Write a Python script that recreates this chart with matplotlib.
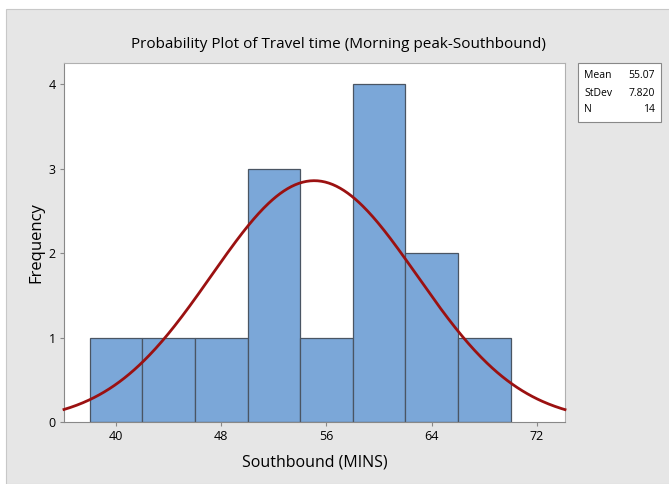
import numpy as np
import matplotlib.pyplot as plt
from matplotlib.patches import Rectangle

plt.rcParams['font.family'] = ['Open Sans', 'DejaVu Sans']

# histogram data (Minitab style)
bin_edges = [38, 42, 46, 50, 54, 58, 62, 66, 70]
counts = [1, 1, 1, 3, 1, 4, 2, 1]
mean = 55.07
stdev = 7.820
n = 14
x_ticks = [40, 48, 56, 64, 72]
y_ticks = [0, 1, 2, 3, 4]

fig = plt.figure(figsize=(6.69, 4.84), dpi=100)
fig.patch.set_facecolor('white')

# gray panel with thin border
fig.patches.append(Rectangle((6 / 669, 0), 1, 1 - 9 / 484, transform=fig.transFigure,
                             facecolor='#e6e6e6', edgecolor='#c8c8c8', linewidth=0.8,
                             zorder=-2))

ax = fig.add_axes([64 / 669, 1 - 422 / 484, (565 - 64) / 669, (422 - 63) / 484])
ax.set_zorder(2)
ax.set_facecolor('white')

widths = np.diff(bin_edges)
ax.bar(bin_edges[:-1], counts, width=widths, align='edge', color='#7ba7d8',
       edgecolor='#4a5563', linewidth=0.9, zorder=2)

xlim = (36.05, 74.13)
xs = np.linspace(xlim[0], xlim[1], 400)
bw = widths[0]
ys = n * bw * np.exp(-0.5 * ((xs - mean) / stdev) ** 2) / (stdev * np.sqrt(2 * np.pi))
ax.plot(xs, ys, color='#9b1111', linewidth=2.0, zorder=3, clip_on=False)

ax.set_xlim(xlim)
ax.set_ylim(0, 4.25)
ax.set_xticks(x_ticks)
ax.set_yticks(y_ticks)
ax.tick_params(axis='both', labelsize=9, length=3, color='#888888', pad=3)
for side in ['top', 'right']:
    ax.spines[side].set_color('#b0b0b0')
for side in ['left', 'bottom']:
    ax.spines[side].set_color('#888888')

ax.set_xlabel('Southbound (MINS)', fontsize=11.5, labelpad=8)
ax.set_ylabel('Frequency', fontsize=12, labelpad=3)
fig.text(0.5066, 1 - 45 / 484, 'Probability Plot of Travel time (Morning peak-Southbound)',
         ha='center', va='center', fontsize=11)

# stats box
fig.patches.append(Rectangle((578 / 669, 1 - 122 / 484), (661 - 578) / 669, 59 / 484,
                             transform=fig.transFigure, facecolor='white',
                             edgecolor='#888888', linewidth=0.8, zorder=-1))
labels = ['Mean', 'StDev', 'N']
values = ['55.07', '7.820', '14']
for i, (lab, val) in enumerate(zip(labels, values)):
    yy = 1 - (76 + i * 17) / 484
    fig.text(584 / 669, yy, lab, ha='left', va='center', fontsize=7.5)
    fig.text(655 / 669, yy, val, ha='right', va='center', fontsize=7.5)

fig.savefig('out.png', dpi=100)
